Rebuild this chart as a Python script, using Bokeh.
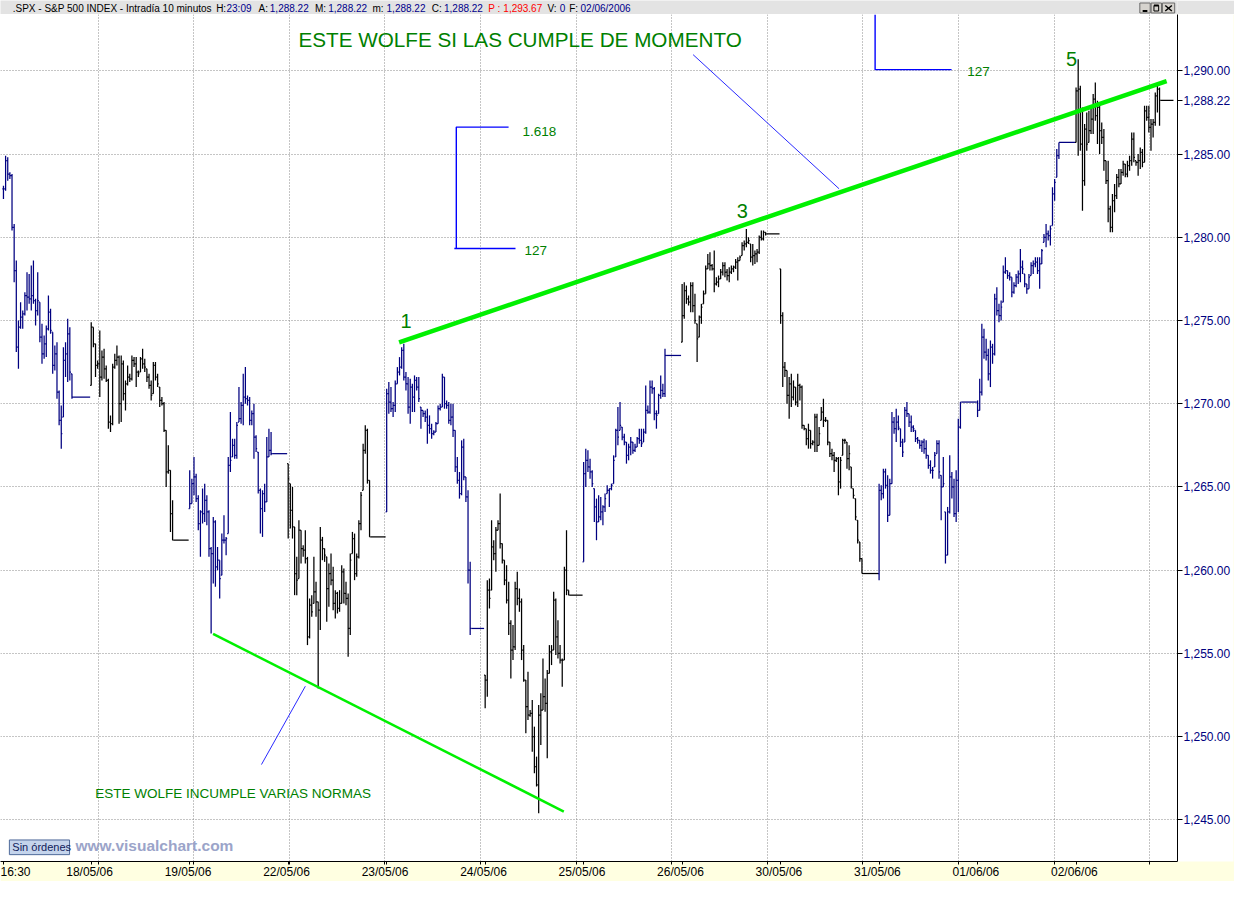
import numpy as np
from bokeh.plotting import figure
from bokeh.models import ColumnDataSource, FixedTicker, NumeralTickFormatter, Range1d
from bokeh.layouts import column
from bokeh.core.properties import value
from bokeh.embed import file_html
from bokeh.resources import INLINE

# ------------------------------------------------------------------ data
day_labels = ["16:30", "18/05/06", "19/05/06", "22/05/06", "23/05/06", "24/05/06",
              "25/05/06", "26/05/06", "30/05/06", "31/05/06", "01/06/06", "02/06/06"]
# 10-minute slots shown per session (regular + after-hours)
session_slots = [41, 46, 46, 46, 46, 46, 46, 46, 46, 46, 46, 46]
day_colors = ["navy", "black", "navy", "black", "navy", "black",
              "navy", "black", "black", "navy", "navy", "black"]

high = [
    # 17/05
    [1283.1,1284.9,1284.8,1283.9,1283.8,1280.8,1278.6,1275.0,1276.1,1275.6,1276.7,1277.9,1277.8,1278.3,1278.6,1276.3,1277.9,
     1276.1,1274.8,1274.1,1274.7,1276.5,1275.7,1274.3,1273.5,1273.7,1270.8,1269.9,1273.4,1273.7,1275.1,1274.6,1271.8],
    # 18/05
    [1274.9,1274.6,1273.6,1272.6,1274.4,1273.2,1273.3,1272.3,1271.5,1269.3,1272.4,1273.0,1273.5,1272.9,1272.9,1272.6,1271.4,
     1272.3,1271.8,1272.9,1272.8,1272.8,1272.0,1272.8,1273.3,1272.7,1272.1,1271.8,1271.4,1272.5,1272.5,1271.8,1271.0,1270.4,
     1270.1,1268.4,1267.5,1266.0,1264.2],
    # 19/05
    [1266.0,1265.5,1266.8,1265.8,1264.5,1263.6,1264.9,1265.2,1264.5,1263.6,1261.4,1263.2,1263.0,1261.4,1260.6,1262.2,1263.3,
     1262.0,1266.8,1269.5,1267.9,1267.9,1268.9,1271.0,1270.1,1271.8,1272.2,1270.5,1270.4,1269.6,1270.0,1268.1,1267.1,1264.9,
     1264.8,1265.2,1268.0,1268.5,1268.3],
    # 22/05
    [1266.4,1265.2,1265.0,1262.6,1260.8,1263.0,1262.4,1261.5,1262.4,1260.8,1258.3,1258.5,1260.8,1259.3,1258.1,1262.6,1262.0,
     1261.3,1260.8,1260.4,1261.0,1260.2,1258.8,1258.7,1258.8,1260.3,1260.1,1259.3,1258.6,1261.0,1262.3,1262.2,1261.0,1263.0,
     1264.7,1267.6,1268.7,1268.5,1265.4],
    # 23/05
    [1270.9,1271.3,1271.0,1270.1,1271.4,1272.2,1272.8,1273.4,1273.6,1271.9,1271.6,1271.5,1271.2,1271.7,1271.6,1271.6,1269.8,
     1269.6,1269.6,1269.7,1269.3,1268.8,1268.4,1268.9,1269.9,1270.0,1271.8,1271.6,1270.2,1270.1,1270.0,1270.0,1268.4,1266.8,
     1265.9,1267.8,1267.9,1265.6,1264.8,1260.5],
    # 24/05
    [1253.7,1259.4,1259.5,1263.0,1261.8,1262.6,1263.0,1264.6,1261.6,1260.6,1260.3,1259.3,1257.0,1256.7,1259.3,1259.9,1258.9,
     1258.3,1255.5,1253.4,1253.9,1251.6,1252.2,1250.6,1248.8,1251.9,1252.6,1254.7,1253.5,1254.0,1255.5,1255.5,1258.7,1258.3,
     1257.0,1255.5,1254.7,1260.2,1262.4,1258.8],
    # 25/05
    [1266.5,1267.3,1267.2,1266.7,1266.0,1264.9,1264.3,1264.5,1264.4,1263.9,1264.6,1265.1,1264.9,1265.2,1266.9,1268.5,1269.8,
     1270.1,1268.6,1268.2,1267.7,1267.6,1268.0,1267.7,1267.6,1268.0,1268.5,1268.5,1268.5,1271.1,1269.9,1271.4,1271.4,1271.0,
     1269.6,1270.6,1271.7,1271.2,1273.3],
    # 26/05
    [1277.2,1277.3,1277.1,1276.5,1277.3,1277.3,1276.6,1274.8,1275.3,1276.0,1276.8,1278.3,1279.0,1279.1,1278.4,1279.2,1277.6,
     1277.7,1278.1,1278.5,1278.5,1278.1,1278.2,1278.3,1278.3,1278.7,1278.8,1278.9,1279.7,1279.8,1280.5,1280.0,1279.6,1279.6,
     1279.2,1279.3,1280.1,1280.4,1280.4,1280.3],
    # 30/05
    [1278.1,1275.5,1272.5,1272.0,1271.6,1271.8,1271.4,1271.0,1271.8,1271.2,1271.1,1268.7,1268.5,1268.8,1268.4,1267.8,1269.4,
     1269.4,1268.6,1269.8,1270.3,1269.2,1269.0,1267.7,1267.3,1267.1,1266.8,1266.8,1266.8,1267.9,1267.9,1267.7,1267.5,1266.2,
     1264.9,1264.3,1263.0,1261.7,1260.7],
    # 31/05
    [1265.2,1265.1,1266.1,1266.1,1265.7,1265.5,1269.5,1269.2,1269.7,1269.3,1268.5,1267.9,1269.8,1270.1,1269.4,1269.3,1268.7,
     1268.4,1268.0,1267.8,1267.8,1267.9,1267.8,1266.9,1266.6,1266.2,1267.1,1267.8,1267.8,1265.7,1266.8,1263.5,1263.8,1266.9,
     1265.9,1265.5,1266.0,1269.1,1270.1],
    # 01/06
    [1270.2,1271.5,1274.8,1274.5,1273.9,1273.3,1273.8,1273.6,1276.6,1277.0,1276.0,1276.2,1278.3,1278.8,1278.0,1277.9,1277.6,
     1277.3,1277.8,1278.0,1279.3,1278.6,1277.8,1277.2,1277.8,1278.5,1278.6,1278.8,1278.8,1278.8,1279.3,1280.2,1280.8,1280.4,
     1280.7,1283.0,1283.5,1285.3,1285.7],
    # 02/06
    [1289.0,1290.7,1289.1,1287.8,1286.8,1287.5,1287.6,1287.8,1288.6,1289.3,1288.2,1288.0,1286.9,1286.5,1284.6,1284.6,1281.9,
     1282.6,1283.2,1283.8,1284.1,1284.1,1284.6,1284.4,1284.6,1284.9,1286.3,1286.3,1284.6,1285.0,1285.4,1285.3,1287.9,1287.9,
     1287.9,1287.1,1287.1,1288.7,1289.2,1289.0],
]

low = [
    [1282.3,1282.8,1283.4,1283.5,1280.4,1277.3,1273.1,1272.1,1274.5,1274.5,1275.3,1275.6,1276.0,1275.6,1276.0,1274.7,1275.3,
     1273.7,1272.4,1272.7,1272.8,1274.4,1274.2,1271.8,1272.0,1270.3,1268.7,1267.3,1269.2,1271.6,1271.3,1271.4,1270.3],
    [1271.1,1273.4,1271.6,1272.1,1270.4,1271.4,1271.5,1271.3,1268.5,1268.3,1268.7,1272.1,1272.3,1268.8,1268.9,1270.2,1269.6,
     1271.1,1271.3,1271.4,1272.2,1271.0,1271.6,1271.9,1272.1,1271.9,1271.3,1270.9,1270.2,1270.6,1271.4,1271.0,1269.8,1269.9,
     1268.3,1265.0,1265.8,1262.3,1261.8],
    [1263.7,1264.0,1264.5,1264.1,1262.4,1260.8,1262.8,1262.9,1262.7,1260.8,1256.2,1259.2,1259.0,1260.0,1258.3,1259.7,1261.6,
     1260.9,1262.2,1265.9,1266.8,1266.7,1266.7,1268.9,1268.8,1268.7,1270.0,1269.9,1268.7,1268.7,1266.7,1267.1,1264.6,1262.2,
     1262.0,1263.5,1264.1,1266.8,1266.9],
    [1261.9,1262.5,1261.9,1258.5,1258.5,1259.5,1260.4,1260.8,1260.4,1255.5,1255.9,1257.2,1258.0,1257.2,1252.9,1256.4,1260.6,
     1260.5,1256.9,1257.8,1259.1,1257.6,1257.1,1257.4,1257.5,1258.0,1258.0,1257.9,1254.8,1256.1,1261.0,1259.4,1259.6,1260.7,
     1262.4,1264.8,1267.0,1265.2,1262.0],
    [1263.5,1269.4,1269.5,1269.2,1269.5,1271.2,1271.7,1272.1,1271.4,1270.8,1269.4,1268.8,1269.5,1269.5,1270.8,1270.1,1268.5,
     1269.2,1268.9,1267.6,1268.2,1267.9,1268.1,1268.3,1268.8,1269.6,1269.8,1269.7,1269.7,1268.8,1268.7,1268.0,1265.9,1265.2,
     1264.3,1264.5,1265.4,1264.1,1259.2,1256.1],
    [1251.7,1252.4,1257.7,1258.8,1260.6,1259.9,1262.4,1261.3,1260.4,1259.1,1258.0,1256.1,1253.5,1254.6,1255.2,1257.9,1257.5,
     1254.6,1253.3,1250.2,1251.0,1251.2,1249.1,1247.8,1247.0,1245.4,1249.5,1251.6,1251.5,1248.7,1253.8,1254.3,1255.2,1254.9,
     1254.7,1254.4,1253.0,1254.6,1258.5,1258.5],
    [1260.5,1265.0,1265.9,1265.5,1265.0,1262.9,1261.8,1262.9,1263.0,1262.7,1263.5,1264.6,1263.8,1264.8,1265.2,1266.8,1267.5,
     1268.4,1267.8,1267.5,1266.4,1266.6,1266.9,1267.0,1267.1,1267.4,1267.6,1267.4,1267.7,1268.2,1269.4,1269.4,1270.6,1269.0,
     1268.5,1269.4,1270.3,1270.4,1270.4],
    [1273.7,1275.1,1276.0,1275.9,1275.5,1275.5,1274.8,1272.5,1274.0,1274.8,1276.0,1276.6,1278.1,1278.0,1278.0,1276.7,1277.1,
     1277.0,1277.5,1277.7,1277.6,1277.4,1277.3,1277.8,1277.9,1278.1,1277.4,1278.6,1278.9,1279.2,1279.4,1279.6,1278.5,1278.3,
     1278.4,1278.5,1279.0,1279.8,1279.8,1280.1],
    [1274.8,1271.0,1271.6,1270.0,1269.1,1269.8,1270.2,1269.9,1269.8,1270.2,1268.5,1268.4,1267.5,1267.3,1267.3,1267.5,1267.1,
     1267.1,1267.5,1269.0,1268.6,1268.9,1267.5,1266.8,1266.6,1265.9,1266.5,1264.5,1264.9,1266.9,1267.6,1266.1,1266.0,1264.9,
     1264.3,1263.0,1261.6,1260.5,1259.8],
    [1259.4,1264.2,1264.3,1264.9,1262.9,1263.3,1265.2,1268.2,1267.7,1268.4,1267.4,1266.8,1267.7,1269.2,1268.6,1268.3,1268.3,
     1267.7,1267.6,1267.3,1267.1,1267.0,1266.7,1266.1,1265.8,1265.5,1266.2,1267.0,1265.5,1263.0,1265.0,1260.4,1260.9,1263.4,
     1264.3,1263.2,1262.9,1263.5,1268.5],
    [1269.2,1269.6,1270.5,1272.7,1272.6,1271.4,1271.0,1272.4,1272.9,1275.3,1274.9,1275.0,1276.1,1277.8,1277.5,1277.4,1276.4,
     1276.6,1277.0,1277.2,1277.3,1277.8,1277.0,1276.6,1276.9,1277.7,1277.8,1278.2,1277.8,1276.9,1278.4,1279.7,1279.4,1279.8,
     1279.5,1280.7,1282.2,1283.6,1284.7],
    [1285.7,1284.9,1285.2,1281.6,1283.1,1285.2,1285.7,1286.2,1286.2,1287.0,1285.6,1285.0,1285.6,1284.0,1283.2,1280.9,1280.3,
     1280.3,1281.5,1282.3,1283.0,1283.2,1283.7,1283.6,1283.6,1284.0,1284.3,1284.5,1284.3,1283.7,1284.1,1284.2,1284.5,1287.0,
     1286.3,1285.2,1286.0,1286.7,1287.5,1286.7],
]

close = [
    [1282.9,1284.6,1283.8,1283.7,1280.6,1278.0,1273.4,1274.6,1275.2,1275.4,1276.5,1276.4,1276.3,1276.5,1276.2,1275.6,1276.2,
     1274.0,1273.0,1273.6,1274.5,1275.5,1274.4,1272.3,1273.0,1270.7,1269.0,1268.2,1272.6,1273.0,1274.2,1271.9,1270.4],
    [1274.6,1273.6,1272.3,1272.4,1271.6,1272.8,1272.1,1271.4,1268.9,1268.8,1272.2,1272.6,1272.8,1270.0,1272.4,1270.6,1271.2,
     1271.6,1271.5,1272.6,1272.4,1271.9,1271.8,1272.7,1272.4,1272.2,1271.6,1271.1,1270.5,1272.3,1271.6,1271.2,1270.2,1270.0,
     1268.4,1265.9,1266.0,1263.4,1261.8],
    [1264.0,1265.2,1265.6,1264.3,1262.8,1263.5,1263.4,1264.2,1263.5,1261.3,1261.0,1262.9,1260.2,1260.6,1259.5,1261.8,1261.8,
     1261.9,1266.3,1266.6,1267.5,1266.9,1268.7,1269.1,1269.9,1270.4,1270.3,1270.2,1269.0,1269.4,1268.0,1267.3,1264.8,1263.7,
     1264.6,1264.1,1266.8,1267.2,1267.0],
    [1265.5,1263.6,1262.6,1259.8,1259.4,1262.4,1261.3,1261.2,1260.7,1256.0,1257.9,1257.5,1258.7,1258.1,1257.6,1261.8,1261.3,
     1260.9,1258.9,1259.8,1259.4,1258.0,1258.6,1257.7,1258.0,1259.9,1258.6,1258.3,1256.5,1260.6,1261.9,1259.8,1260.8,1262.8,
     1264.5,1267.2,1268.4,1265.4,1262.0],
    [1270.6,1270.1,1269.7,1269.9,1271.2,1271.9,1272.2,1273.2,1271.6,1271.2,1269.8,1271.0,1270.4,1271.4,1271.0,1270.3,1269.6,
     1269.4,1269.2,1268.7,1268.5,1268.2,1268.3,1268.8,1269.7,1269.8,1271.6,1270.0,1269.9,1269.0,1269.2,1268.4,1266.2,1265.4,
     1264.6,1267.4,1265.6,1264.4,1260.0,1256.5],
    [1253.4,1258.8,1258.3,1261.4,1261.0,1262.4,1262.8,1261.6,1260.6,1259.4,1258.2,1256.8,1255.2,1255.4,1258.9,1258.3,1258.1,
     1255.2,1253.4,1251.8,1251.3,1251.4,1250.0,1248.2,1247.1,1251.3,1251.6,1252.4,1252.0,1253.8,1255.1,1255.2,1258.2,1256.0,
     1255.0,1254.6,1254.6,1260.0,1258.8,1258.5],
    [1265.8,1266.6,1266.2,1265.9,1265.2,1263.8,1262.9,1263.2,1263.5,1263.8,1264.3,1264.8,1264.9,1265.1,1266.6,1268.4,1268.0,
     1268.7,1268.0,1267.7,1266.9,1267.4,1267.7,1267.2,1267.4,1267.9,1267.8,1267.6,1268.3,1269.6,1269.5,1271.0,1270.9,1269.4,
     1269.3,1270.5,1270.8,1270.6,1272.9],
    [1275.3,1276.8,1276.3,1276.1,1277.1,1275.9,1275.0,1273.9,1275.2,1275.8,1276.6,1278.1,1278.4,1278.3,1278.1,1277.2,1277.3,
     1277.5,1277.9,1278.3,1277.9,1277.7,1277.9,1278.1,1278.2,1278.5,1278.6,1278.8,1279.5,1279.6,1279.7,1279.8,1278.8,1278.9,
     1279.0,1279.1,1280.0,1279.9,1280.3,1280.2],
    [1275.3,1272.2,1272.0,1270.5,1271.2,1270.4,1271.0,1270.1,1271.1,1271.0,1268.7,1268.5,1267.9,1268.4,1267.6,1267.7,1269.2,
     1267.5,1268.2,1269.5,1269.0,1269.0,1267.7,1267.0,1266.9,1266.6,1266.7,1265.3,1266.6,1267.8,1267.8,1266.7,1267.0,1265.0,
     1264.5,1263.2,1261.8,1260.7,1259.8],
    [1264.8,1264.6,1265.9,1265.1,1263.3,1265.2,1268.9,1268.5,1268.9,1268.6,1267.7,1267.1,1269.6,1269.4,1268.9,1268.6,1268.5,
     1267.9,1267.8,1267.5,1267.7,1267.3,1266.9,1266.3,1266.0,1266.0,1266.9,1267.6,1265.9,1265.0,1265.2,1260.9,1263.5,1265.6,
     1265.0,1263.4,1265.4,1268.6,1270.1],
    [1269.6,1270.7,1274.0,1273.1,1272.9,1271.8,1273.4,1273.0,1276.3,1275.6,1275.3,1275.8,1277.9,1278.0,1277.7,1277.6,1276.7,
     1277.1,1277.6,1277.8,1278.2,1278.1,1277.2,1276.9,1277.6,1278.3,1278.4,1278.5,1278.0,1278.4,1279.2,1280.0,1280.2,1280.1,
     1280.5,1282.6,1283.3,1284.9,1285.7],
    [1288.8,1288.9,1285.6,1283.4,1286.5,1285.6,1286.4,1287.1,1288.3,1287.3,1287.8,1286.4,1286.0,1284.6,1283.4,1281.7,1280.6,
     1282.2,1282.5,1283.6,1283.2,1283.9,1284.4,1283.8,1284.3,1284.6,1285.9,1284.8,1284.5,1284.6,1285.1,1284.5,1287.6,1287.2,
     1286.6,1286.8,1286.9,1288.5,1288.9,1288.22],
]

price_ticks = [1245, 1250, 1255, 1260, 1265, 1270, 1275, 1280, 1285, 1290]

# Wolfe-wave trend lines drawn by the author (slot index, price)
wolfe_upper_x = [184.8, 543.3]
wolfe_upper_y = [1273.68, 1289.38]
wolfe_lower_x = [97.9, 261.75]
wolfe_lower_y = [1256.18, 1245.5]

header_text = [".SPX - S&P 500 INDEX - Intradía 10 minutos", "H:", "23:09", "A:", "1,288.22", "M:", "1,288.22",
               "m:", "1,288.22", "C:", "1,288.22", "P :", "1,293.67", "V:", "0", "F:", "02/06/2006"]

# ------------------------------------------------------------------ layout / style
FONT = "Liberation Sans"
NAVY = "#000080"
GTXT = "#008000"
LIME = "#00f000"
BLUE = "#0000ff"
W, H_TOP, H_MAIN = 1234, 14, 867
BAR_W = 1.25

# reference-pixel helpers (layout of annotations only)
def sx(xr):
    return (xr - 3.0) / 2.17

def py(yr):
    return 1290.0 - (yr - 71.5) / 17.0

# ------------------------------------------------------------------ build bars
xs, hs, ls, cs, os_, cols = [], [], [], [], [], []
fx0, fx1, fy, fc = [], [], [], []
day_start = []
start = 0
prev_close = None
for d in range(len(day_labels)):
    n = len(high[d])
    assert len(low[d]) == n and len(close[d]) == n, d
    day_start.append(start)
    for j in range(n):
        h, l, c = high[d][j], low[d][j], close[d][j]
        o = c if prev_close is None else min(max(prev_close, l), h)
        xs.append(start + j); hs.append(h); ls.append(l); cs.append(c); os_.append(o)
        cols.append(day_colors[d])
        prev_close = c
    fx0.append(start + n - 1 + 0.5)
    fx1.append(start + session_slots[d] - 0.5)
    fy.append(close[d][-1]); fc.append(day_colors[d])
    start += session_slots[d]

xs = np.array(xs, dtype=float)
src = ColumnDataSource(dict(x=xs, xl=xs - 0.5, xr=xs + 0.5, hi=hs, lo=ls, op=os_, cl=cs, c=cols))

grid_first, grid_step = sx(99), 96.9 / 2.17
grid_slots = [grid_first + k * grid_step for k in range(12)]

last = close[-1][-1]

# ------------------------------------------------------------------ title bar figure
t = figure(width=W, height=H_TOP, x_range=Range1d(0, 1250), y_range=Range1d(14, 0),
           toolbar_location=None, output_backend="svg", min_border=0,
           x_axis_type=None, y_axis_type=None,
           background_fill_color="#e3e3e3", border_fill_color="#e3e3e3", outline_line_color=None)
t.grid.visible = False
header_x = [13, 229, 240, 274, 286, 334, 348, 395, 410, 458, 471, 518, 534, 581, 594, 604, 616]
header_col = ["black", "black", "#00008c", "black", "#00008c", "black", "#00008c", "black", "#00008c",
              "black", "#00008c", "#ff0000", "#ff0000", "black", "#00008c", "black", "#00008c"]
t.text(x=header_x, y=[7.5] * len(header_x), text=header_text, text_color=header_col,
       text_font=value(FONT), text_font_size="10px", text_baseline="middle", text_align="left")
t.quad(left=[1210, 1222, 1234], right=[1221, 1233, 1247], top=[2.5] * 3, bottom=[12.5] * 3,
       fill_color="#d6d3ce", line_color="#6a6a6a", line_width=1)
t.segment(x0=[1213, 1225, 1237, 1237], y0=[10.5, 5, 5, 10.5], x1=[1218, 1230, 1244, 1244], y1=[10.5, 5, 10.5, 5],
          line_color="black", line_width=[2, 2, 1.5, 1.5])
t.quad(left=[1225], right=[1230], top=[5], bottom=[10.5], fill_color=None, line_color="black")

# ------------------------------------------------------------------ main figure
p = figure(width=W, height=H_MAIN, x_range=Range1d(sx(0), sx(1193)), y_range=Range1d(py(879), py(14)),
           y_axis_location="right", toolbar_location=None, output_backend="svg",
           min_border_left=0, min_border_top=0, min_border_bottom=17, min_border_right=57,
           background_fill_color="white", border_fill_color="#ffffe1", outline_line_color=None)

xa = p.xaxis[0]
xa.ticker = FixedTicker(ticks=day_start, minor_ticks=grid_slots)
xa.major_label_overrides = {s: " " + lab for s, lab in zip(day_start, day_labels)}
xa.major_label_text_align = "left"
xa.major_label_text_font = FONT
xa.major_label_text_font_size = "12px"
xa.major_label_text_color = "black"
xa.major_label_standoff = 0
xa.major_tick_out = 3
xa.major_tick_in = 0
xa.minor_tick_out = 3
xa.minor_tick_in = 0
xa.axis_line_color = "black"
xa.major_tick_line_color = "black"
xa.minor_tick_line_color = "black"

ya = p.yaxis[0]
ya.ticker = FixedTicker(ticks=price_ticks + [last])
ya.formatter = NumeralTickFormatter(format="0,0.00")
ya.major_label_overrides = {last: f"{last:,.2f}"}
ya.major_label_text_font = FONT
ya.major_label_text_font_size = "12px"
ya.major_label_text_color = NAVY
ya.major_label_standoff = 1
ya.major_tick_out = 5
ya.major_tick_in = 0
ya.minor_tick_out = 0
ya.minor_tick_in = 0
ya.axis_line_color = "black"
try:
    ya.background_fill_color = "white"
except Exception:
    pass

p.xgrid.ticker = FixedTicker(ticks=grid_slots)
p.ygrid.ticker = FixedTicker(ticks=price_ticks)
for g in (p.xgrid[0], p.ygrid[0]):
    g.grid_line_color = "#8a8a8a"
    g.grid_line_dash = "1 2"
    g.grid_line_width = 1

# price bars
p.segment(x0="x", y0="lo", x1="x", y1="hi", line_color="c", line_width=BAR_W, source=src)
p.segment(x0="xl", y0="op", x1="x", y1="op", line_color="c", line_width=BAR_W, source=src)
p.segment(x0="x", y0="cl", x1="xr", y1="cl", line_color="c", line_width=BAR_W, source=src)
p.segment(x0=fx0, y0=fy, x1=fx1, y1=fy, line_color=fc, line_width=BAR_W)

# Wolfe lines
p.line(wolfe_upper_x, wolfe_upper_y, line_color=LIME, line_width=4.5)
p.line(wolfe_lower_x, wolfe_lower_y, line_color=LIME, line_width=2.5)

# blue annotation drawings
p.line([sx(702), sx(850)], [py(55), py(192)], line_color="#2a2aff", line_width=1)
p.line([sx(264.5), sx(309)], [py(780), py(700)], line_color="#2a2aff", line_width=1)
p.multi_line(xs=[[sx(515), sx(462), sx(462)], [sx(460), sx(522)],
                 [sx(886.5), sx(886.5), sx(964)]],
             ys=[[py(129), py(129), py(253)], [py(253), py(253)],
                 [py(14), py(70.3), py(70.3)]],
             line_color=BLUE, line_width=1.4)

def txt(xr, yr, s, size, align="left", color=GTXT, style="normal", font=FONT):
    p.text(x=[sx(xr)], y=[py(yr)], text=[s], text_color=color, text_font=value(font),
           text_font_size=size, text_baseline="middle", text_align=align, text_font_style=style)

txt(302, 40, "ESTE WOLFE SI LAS CUMPLE DE MOMENTO", "20.7px")
txt(96, 810, "ESTE WOLFE INCUMPLE VARIAS NORMAS", "13.5px")
txt(529, 133, "1.618", "13.5px")
txt(531, 255, "127", "13.5px")
txt(980, 72, "127", "13.5px")
txt(411, 327, "1", "20px", align="center")
txt(752, 215, "3", "20px", align="center")
txt(1085.5, 59, "5", "20px", align="center")

# footer tags
p.quad(left=[sx(9)], right=[sx(70)], top=[py(857)], bottom=[py(872)],
       fill_color="#c4d4ec", line_color="#4f6a9a", line_width=1)
txt(12, 864.5, "Sin órdenes", "11px", color="#10205a")
txt(76, 863, "www.visualchart.com", "15.5px", color="#9ba4c9", style="bold")

layout = column(t, p, spacing=0)
open("out.html", "w").write(file_html(layout, INLINE))
